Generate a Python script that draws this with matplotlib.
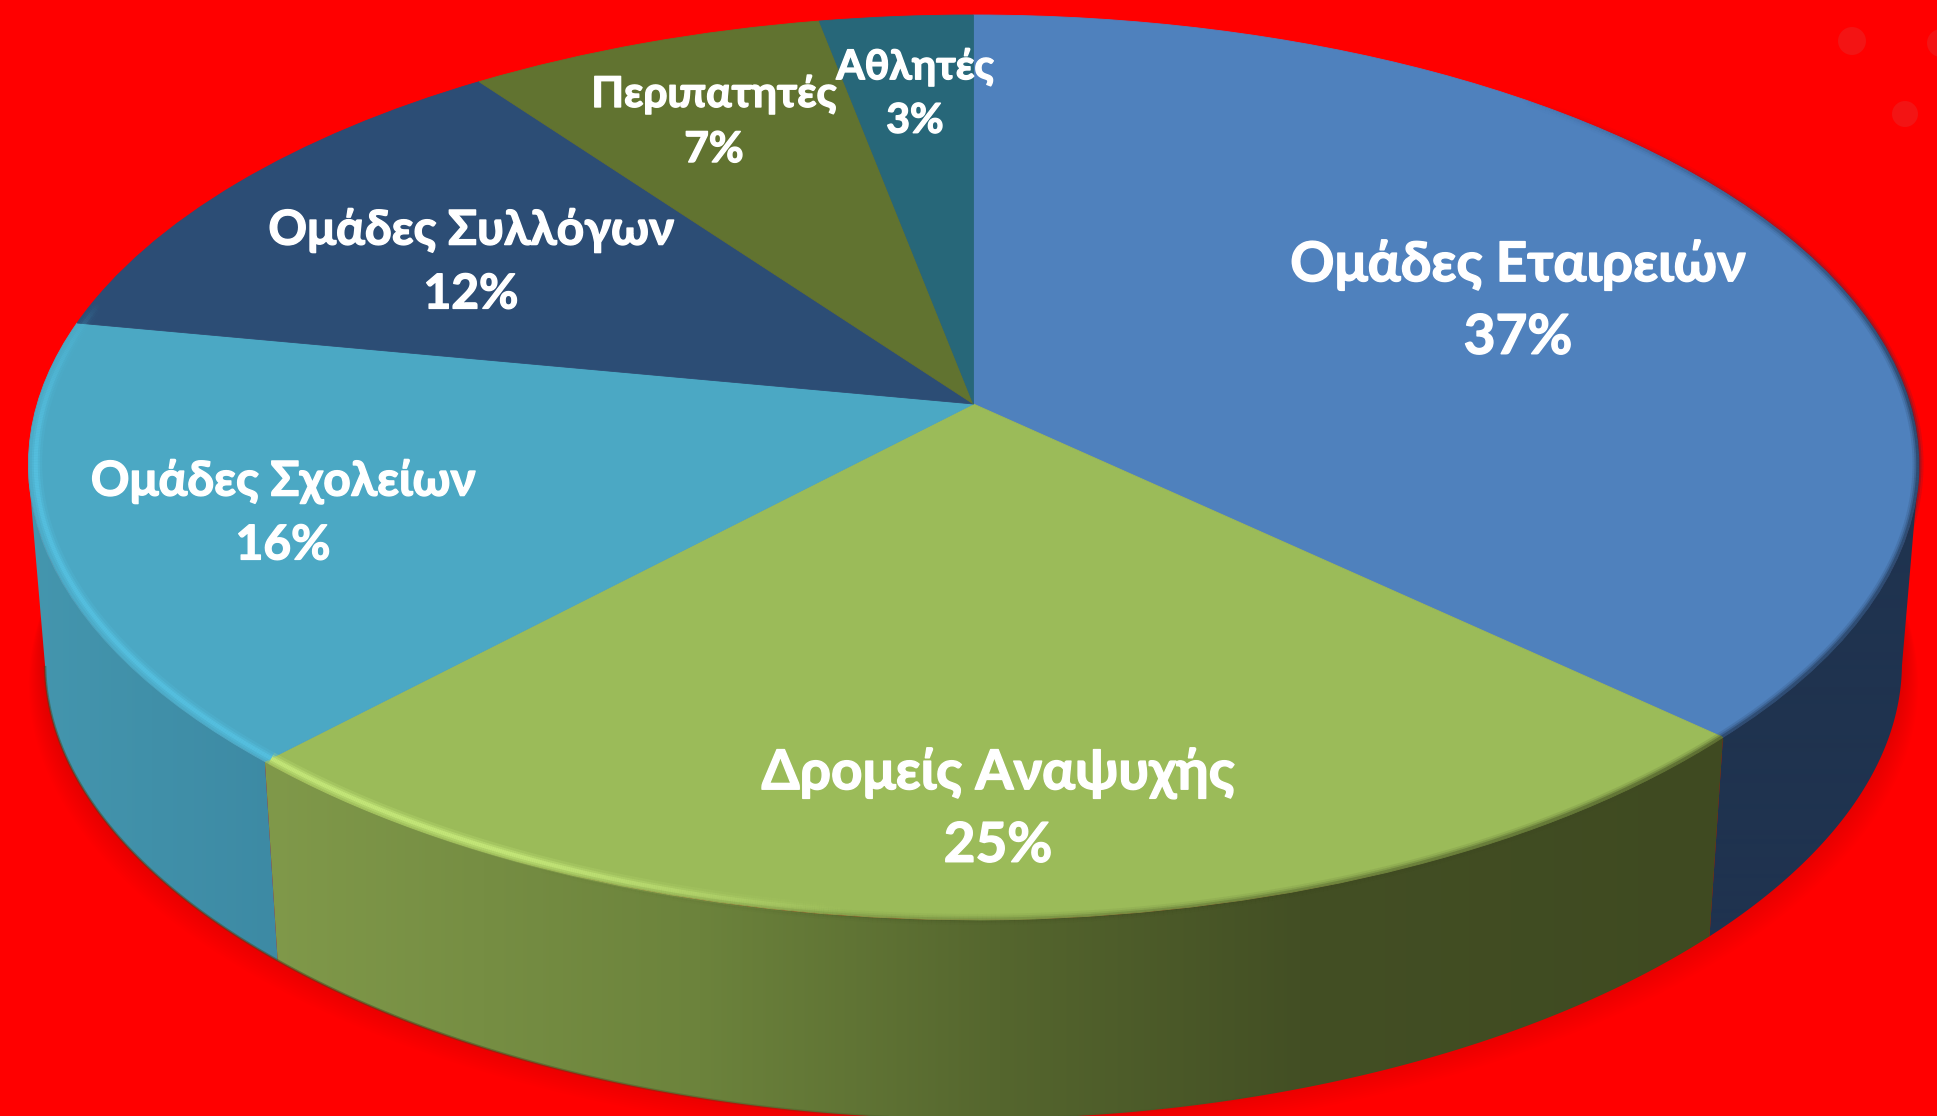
import numpy as np
import matplotlib
matplotlib.use("Agg")
import matplotlib.pyplot as plt
import matplotlib.patheffects as pe
from matplotlib.collections import LineCollection
from matplotlib.colors import to_rgb
from matplotlib.patches import Circle, Polygon
from matplotlib.path import Path
from matplotlib.transforms import Transform

# ---- data ----
categories = ["Ομάδες Εταιρειών", "Δρομείς Αναψυχής", "Ομάδες Σχολείων",
              "Ομάδες Συλλόγων", "Περιπατητές", "Αθλητές"]
percent = [37, 25, 16, 12, 7, 3]

# ---- style / layout ----
top_colors = ["#4F81BD", "#9BBB59", "#4BA8C4", "#2C4D75", "#617330", "#276779"]
label_xy = [(1518, 301), (998, 809), (283, 513), (471, 262), (714, 122), (915, 94)]
label_size = [39.5, 39.5, 34.5, 34.5, 30.5, 29.5]
W, H = 1937, 1116
CX, CY = 973.5, 404.0
K, A, B = 0.1403, 936.6, 443.6
DEPTH, WALL_SX = 199.0, 0.982
PINCH = 0.007
RED = "#FF0000"

plt.rcParams["font.family"] = ["Lato", "Open Sans", "DejaVu Sans"]


def project(u, v):
    # near half of the rim is drawn slightly flatter than a true ellipse
    r2 = np.maximum(u * u + v * v, 1e-9)
    f = 1 - PINCH * (2 * u * v / r2) ** 2 * (v < 0)
    u, v = u * f, v * f
    w = 1 + K * v
    return CX + A * u / w, CY - B * v / w


class Perspective(Transform):
    input_dims = output_dims = 2
    has_inverse = False
    is_separable = False

    def transform_non_affine(self, values):
        x, y = project(values[:, 0], values[:, 1])
        return np.column_stack([x, y])

    def transform_path_non_affine(self, path):
        return Path(self.transform_non_affine(path.vertices), path.codes)


def arc(t1, t2, rho=1.0, n=240, lower=False):
    th = np.radians(np.linspace(t1, t2, n))
    x, y = project(rho * np.sin(th), rho * np.cos(th))
    if lower:
        x = CX + (x - CX) * WALL_SX
        y = y + DEPTH
    return np.column_stack([x, y])


def wall_poly(t1, t2):
    return np.vstack([arc(t1, t2), arc(t1, t2, lower=True)[::-1]])


fig = plt.figure(figsize=(W / 100, H / 100), dpi=100, facecolor=RED)
ax = fig.add_axes([0, 0, 1, 1], facecolor=RED)

edges = np.concatenate([[0], np.cumsum(percent) / np.sum(percent) * 360])

# soft shadow under the wall
whole = arc(0, 360, lower=True, n=360)
for d in np.linspace(2, 44, 18):
    shifted = np.column_stack([CX + (whole[:, 0] - CX) * (1 + d * 0.0004),
                               whole[:, 1] + d * 0.9 - 18])
    ax.add_patch(Polygon(shifted, closed=True, fc="black", ec="none",
                         alpha=0.0075, zorder=1))


def wall(t1, t2, stops):
    poly = Polygon(wall_poly(t1, t2), closed=True, fc="none", ec="none", zorder=2)
    ax.add_patch(poly)
    xs = np.array([s[0] for s in stops], float)
    rgb = np.array([to_rgb(s[1]) for s in stops])
    xx = np.arange(0, W)
    img = np.stack([np.interp(xx, xs, rgb[:, i]) for i in range(3)], axis=-1)[None, :, :]
    im = ax.imshow(img, extent=(0, W, H, 0), aspect="auto", zorder=2, interpolation="bilinear")
    im.set_clip_path(poly)


wall(98, edges[1], [(0, "#1F334F"), (W, "#1F334F")])
wall(edges[1], edges[2], [(267, "#80994A"), (700, "#6C833C"), (1000, "#55662E"),
                          (1300, "#434F24"), (1722, "#3F4A21")])
wall(edges[2], 262, [(27, "#4496AE"), (277, "#3D8AA4")])


def rim(t1, t2, color, alpha_fn, widths, rho=1.0, lower=False, zorder=6):
    pts = arc(t1, t2, rho=rho, n=300, lower=lower)
    segs = np.stack([pts[:-1], pts[1:]], axis=1)
    th = np.linspace(t1, t2, len(segs))
    base = alpha_fn(th)
    c = np.array(to_rgb(color))
    for px, a in widths:
        rgba = np.column_stack([np.tile(c, (len(segs), 1)), base * a])
        ax.add_collection(LineCollection(segs, colors=rgba, linewidths=px * 0.72,
                                         capstyle="butt", zorder=zorder))


# top face: a real pie chart, pushed through the perspective projection
wedges, _ = ax.pie(percent, startangle=90, counterclock=False, colors=top_colors, frame=True,
                   wedgeprops=dict(linewidth=0.6))
proj = Perspective()
for w, c in zip(wedges, top_colors):
    w.set_edgecolor(c)
    w.set_transform(proj + ax.transData)
    w.set_zorder(4)

soft = [(11, 0.14), (7, 0.26), (3.5, 0.45)]
bright = [(13, 0.22), (8, 0.40), (4, 0.75)]
# dark soft edge on the right
rim(40, edges[1], "#1F334F", lambda t: np.clip((t - 40) / 50, 0, 1), soft, rho=0.999)
rim(edges[1], 205, "#3F4A21", lambda t: np.clip((205 - t) / 70, 0, 1), soft, rho=0.999)
# light bevel on the left
rim(186, edges[2], "#C8EB7C", lambda t: np.clip((t - 186) / 20, 0, 1), bright, rho=0.992)
rim(edges[2], 284, "#56C2E2", lambda t: np.clip((284 - t) / 22, 0, 1), bright, rho=0.992)
# dark line at the foot of the wall
rim(edges[1] + 30, 262, "#3F4A21", lambda t: np.clip((t - edges[1] - 30) / 60, 0, 0.8),
    [(2.5, 0.6)], lower=True, zorder=3)

for (x, y), r in [((1852, 41), 14), ((1905, 114), 13), ((1941, 43), 14)]:
    ax.add_patch(Circle((x, y), r, fc="#F31414", ec="none", zorder=1))

for name, p, (x, y), s in zip(categories, percent, label_xy, label_size):
    ax.text(x, y, f"{name}\n{p}%", ha="center", va="center", color="white",
            fontsize=s, fontweight="bold", linespacing=1.55, zorder=8,
            path_effects=[pe.withStroke(linewidth=1.0, foreground="white")])

ax.set_aspect("auto")
ax.set_xlim(0, W)
ax.set_ylim(H, 0)
ax.set_axis_off()
fig.savefig("out.png", dpi=100, facecolor=RED)
